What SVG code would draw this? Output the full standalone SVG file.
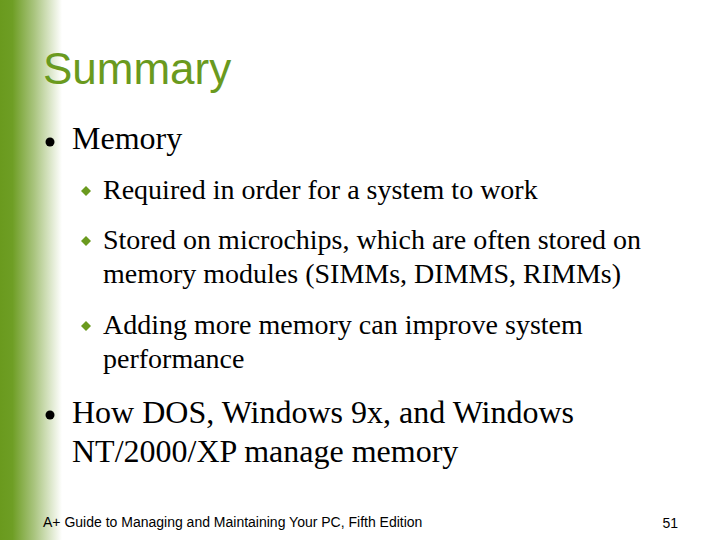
<svg xmlns="http://www.w3.org/2000/svg" width="720" height="540" viewBox="0 0 720 540">
<defs>
<linearGradient id="g" x1="0" x2="1" y1="0" y2="0">
<stop offset="0" stop-color="#6a9a1e"/>
<stop offset="0.2" stop-color="#6e9e24"/>
<stop offset="0.55" stop-color="#a9c47e"/>
<stop offset="1" stop-color="#ffffff"/>
</linearGradient>
<style>
.b{font-family:"Liberation Serif",serif;fill:#000}
.l1{font-size:32px}
.l2{font-size:28px}
.d{fill:#6a9a1e}
</style>
</defs>
<rect width="720" height="540" fill="#fff"/>
<rect x="0" y="0" width="62" height="540" fill="url(#g)"/>
<text x="43" y="84" font-family="Liberation Sans,sans-serif" font-size="44" fill="#6a9a1e">Summary</text>
<g id="bullets">
<circle cx="50" cy="142" r="4.5"/>
<text class="b l1" x="72" y="149">Memory</text>
<path class="d" d="M86 186l5 5-5 5-5-5z"/>
<text class="b l2" x="103" y="199">Required in order for a system to work</text>
<path class="d" d="M86 236l5 5-5 5-5-5z"/>
<text class="b l2" x="103" y="249">Stored on microchips, which are often stored on</text>
<text class="b l2" x="103" y="283">memory modules (SIMMs, DIMMS, RIMMs)</text>
<path class="d" d="M86 321l5 5-5 5-5-5z"/>
<text class="b l2" x="103" y="334">Adding more memory can improve system</text>
<text class="b l2" x="103" y="368">performance</text>
<circle cx="50" cy="415" r="4.5"/>
<text class="b l1" x="72" y="423">How DOS, Windows 9x, and Windows</text>
<text class="b l1" x="72" y="462">NT/2000/XP manage memory</text>
</g>
<text x="43" y="527" font-family="Liberation Sans,sans-serif" font-size="14">A+ Guide to Managing and Maintaining Your PC, Fifth Edition</text>
<text x="678" y="528" font-family="Liberation Sans,sans-serif" font-size="14" text-anchor="end">51</text>
</svg>
